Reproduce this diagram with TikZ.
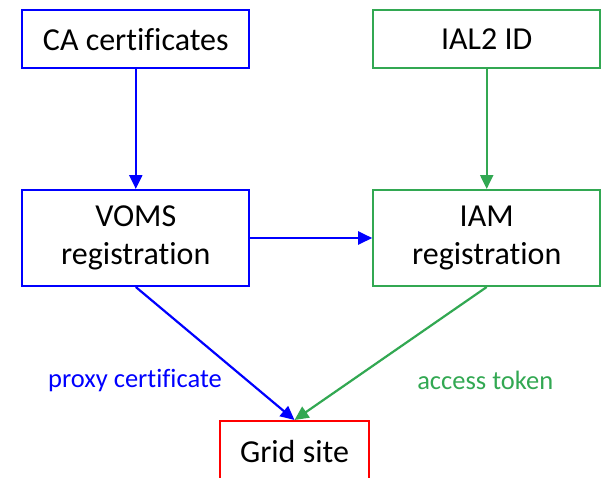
\documentclass[tikz,border=0pt]{standalone}
\usepackage{fontspec}
\setmainfont{Carlito}[Ligatures=NoCommon]
\usetikzlibrary{arrows.meta}
\definecolor{regblue}{RGB}{0,0,255}
\definecolor{reggreen}{RGB}{50,168,82}
\definecolor{regred}{RGB}{255,0,0}

\begin{document}
\begin{tikzpicture}[x=1pt, y=-1pt,
    font=\fontsize{32}{38.5}\selectfont,
    box/.style={draw=#1, line width=2pt, text=black, inner sep=0pt, align=center, minimum width=227pt},
    flow/.style={draw=#1, fill=#1, line width=2.2pt, -{Triangle[length=14pt,width=13pt]}},
    lbl/.style={text=#1, font=\fontsize{26.5}{30}\selectfont, inner sep=0pt}]
    \useasboundingbox (0,0) rectangle (601,477);
    % sources
    \node[box=regblue, minimum height=58pt] (ca) at (135.8,39.2) {CA certificates};
    \node[box=reggreen, minimum height=58pt] (ial) at (486.7,39.2) {IAL2 ID};
    % registrations
    \node[box=regblue, minimum height=96pt] (voms) at (135.8,238) {VOMS\\registration};
    \node[box=reggreen, minimum height=96pt] (iam) at (486.7,238) {IAM\\registration};
    % site
    \node[box=regred, minimum width=149pt, minimum height=60pt] (grid) at (294.5,451) {Grid site};
    \draw[flow=regblue] (ca) -- (voms);
    \draw[flow=reggreen] (ial) -- (iam);
    \draw[flow=regblue] (voms) -- (iam);
    \draw[flow=regblue] (voms.south) -- node[lbl=regblue, pos=0.7, left=24pt] {proxy certificate} (grid.north);
    \draw[flow=reggreen] (iam.south) -- node[lbl=reggreen, pos=0.7, right=64pt] {access token} (grid.north);
\end{tikzpicture}
\end{document}
